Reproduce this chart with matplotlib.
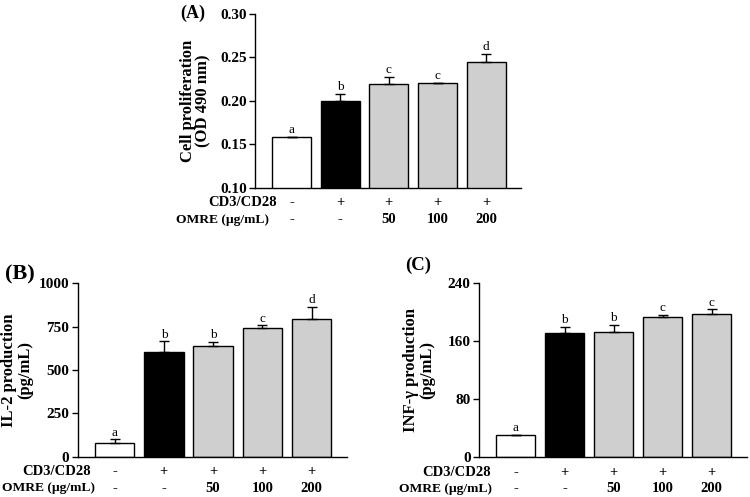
import matplotlib
matplotlib.use("Agg")
import matplotlib.pyplot as plt
import numpy as np

plt.rcParams['font.family'] = ['Liberation Serif', 'DejaVu Serif']

# ---- data ----
groups = ["ctrl", "CD3/CD28", "OMRE50", "OMRE100", "OMRE200"]
cd3_signs = ["-", "+", "+", "+", "+"]
omre_signs = ["-", "-", "50", "100", "200"]

prolif_mean = [0.158, 0.200, 0.219, 0.220, 0.245]
prolif_err = [0.001, 0.008, 0.009, 0.001, 0.009]
prolif_letters = ["a", "b", "c", "c", "d"]

il2_mean = [80, 603, 638, 742, 793]
il2_err = [20, 62, 25, 15, 70]
il2_letters = ["a", "b", "b", "c", "d"]

ifn_mean = [30, 171, 173, 194, 197]
ifn_err = [1, 9, 10, 2, 7]
ifn_letters = ["a", "b", "b", "c", "c"]

bar_colors = ["white", "black", "#cfcfcf", "#cfcfcf", "#cfcfcf"]

fig = plt.figure(figsize=(7.5, 4.97), dpi=100)

panels = [
    dict(rect=[0.34, 0.622, 0.355, 0.350], mean=prolif_mean, err=prolif_err,
         letters=prolif_letters, ylim=(0.10, 0.30), yticks=[0.10, 0.15, 0.20, 0.25, 0.30],
         fmt="{:.2f}", ylabel="Cell proliferation\n(OD 490 nm)", tag="(A)",
         tagxy=(0.257, 0.974), tagsize=13, labx=-0.162, rowx=(0.083, 0.053)),
    dict(rect=[0.1036, 0.081, 0.359, 0.349], mean=il2_mean, err=il2_err,
         letters=il2_letters, ylim=(0, 1000), yticks=[0, 250, 500, 750, 1000],
         fmt="{:d}", ylabel="IL-2 production\n(pg/mL)", tag="(B)",
         tagxy=(0.027, 0.447), tagsize=16, labx=-0.165, rowx=(0.05, 0.064)),
    dict(rect=[0.6387, 0.080, 0.357, 0.350], mean=ifn_mean, err=ifn_err,
         letters=ifn_letters, ylim=(0, 240), yticks=[0, 80, 160, 240],
         fmt="{:d}", ylabel="INF-γ production\n(pg/mL)", tag="(C)",
         tagxy=(0.558, 0.467), tagsize=13.5, labx=-0.164, rowx=(0.043, 0.049)),
]

x = np.arange(len(groups))
for p in panels:
    ax = fig.add_axes(p["rect"])
    ax.bar(x, p["mean"], width=0.8, color=bar_colors, edgecolor="black",
           linewidth=1.0, zorder=2)
    yerr = np.array([np.zeros(len(x)), p["err"]])
    ax.errorbar(x, p["mean"], yerr=yerr, fmt="none", ecolor="black",
                elinewidth=1.0, capsize=3.5, capthick=1.0, zorder=3)
    for xi, m, e, lt in zip(x, p["mean"], p["err"], p["letters"]):
        ax.annotate(lt, (xi, m + e), xytext=(0, 0.5), textcoords="offset points",
                    ha="center", va="bottom", fontsize=9.5)
    ax.set_xlim(-0.75, 4.72)
    ax.set_ylim(*p["ylim"])
    ax.set_yticks(p["yticks"])
    ax.set_yticklabels([p["fmt"].format(v) for v in p["yticks"]],
                       fontsize=11, fontweight="bold")
    ax.set_xticks([])
    for s in ["top", "right"]:
        ax.spines[s].set_visible(False)
    ax.spines["left"].set_linewidth(1.0)
    ax.spines["bottom"].set_linewidth(1.0)
    ax.tick_params(axis="y", direction="out", length=4, width=1.0, pad=2)
    ax.set_ylabel(p["ylabel"], fontsize=12, fontweight="bold", linespacing=1.0)
    ax.yaxis.set_label_coords(p["labx"], 0.5)
    # condition rows
    tr = ax.get_xaxis_transform()
    for xi, s1, s2 in zip(x, cd3_signs, omre_signs):
        ax.text(xi, -0.086, s1, transform=tr, ha="center", va="center",
                fontsize=10.5, fontweight="bold")
        ax.text(xi, -0.182, s2, transform=tr, ha="center", va="center",
                fontsize=10.5, fontweight="bold")
    ax.text(p["rowx"][0], -0.086, "CD3/CD28", transform=ax.transAxes,
            ha="right", va="center", fontsize=10.5, fontweight="bold")
    ax.text(p["rowx"][1], -0.182, "OMRE (μg/mL)", transform=ax.transAxes,
            ha="right", va="center", fontsize=9.7, fontweight="bold")
    fig.text(p["tagxy"][0], p["tagxy"][1], p["tag"], ha="center", va="center",
             fontsize=p["tagsize"], fontweight="bold")

fig.savefig("out.png", dpi=100)
